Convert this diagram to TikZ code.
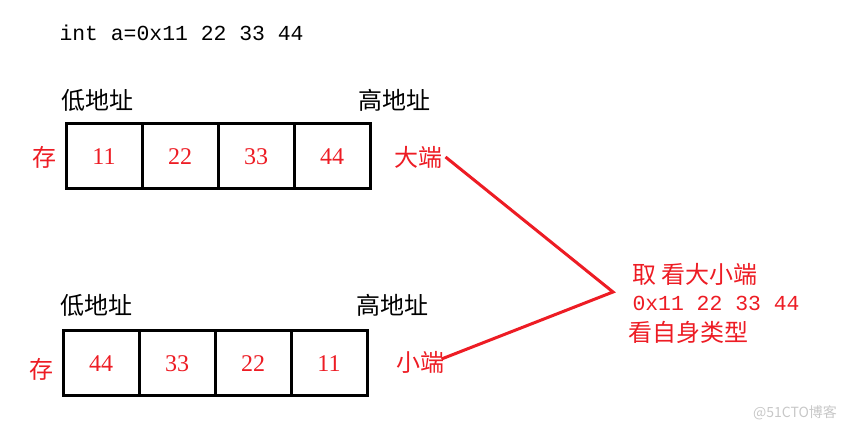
\documentclass[tikz,border=0pt]{standalone}
\usepackage{fontspec}
\setmainfont{Liberation Mono}
\newfontfamily\cjk{Noto Sans CJK SC}
\newfontfamily\digits{Liberation Serif}
\usetikzlibrary{positioning}
\definecolor{endred}{RGB}{237,28,36}

\begin{document}
\begin{tikzpicture}
		[x=1pt, y=-1pt,
		cell/.style={rectangle, draw=black, line width=3pt, minimum width=76pt, minimum height=65pt, inner sep=0pt, outer sep=0pt, text=endred, font=\digits\fontsize{24}{24}\selectfont},
		addr/.style={font=\cjk\fontsize{24}{24}\selectfont},
		note/.style={text=endred, font=\cjk\fontsize{24}{24}\selectfont},
		code/.style={anchor=west, font=\fontsize{21.4}{21.4}\selectfont}]
		\useasboundingbox (0,0) rectangle (847,430);

		\node[code] (decl) at (56,33) {int a=0x11 22 33 44};

		% big endian
		\node[addr] (blow) at (97,100) {低地址};
		\node[addr] (bhigh) at (394,100) {高地址};
		\node[note] (bstore) at (44,157) {存};
		\node[cell] (b1) at (104,156.5) {11};
		\node[cell, right=0pt of b1] (b2) {22};
		\node[cell, right=0pt of b2] (b3) {33};
		\node[cell, right=0pt of b3] (b4) {44};
		\node[note] (bigend) at (418,157) {大端};

		% little endian
		\node[addr] (slow) at (96,305) {低地址};
		\node[addr] (shigh) at (392,305) {高地址};
		\node[note] (sstore) at (42,369) {存};
		\node[cell] (s1) at (101,363.5) {44};
		\node[cell, right=0pt of s1] (s2) {33};
		\node[cell, right=0pt of s2] (s3) {22};
		\node[cell, right=0pt of s3] (s4) {11};
		\node[note] (smallend) at (420,362) {小端};

		% reading
		\coordinate (tip) at (613,292);
		\node[note, anchor=west] (take) at (629,274) {取 看大小端};
		\node[code, text=endred] (value) at (629,303) {0x11 22 33 44};
		\node[note, anchor=west] (own) at (625,332) {看自身类型};

		\draw[endred, line width=3pt] (bigend.east) -- (tip) -- ([xshift=-6pt, yshift=3pt]smallend.east);

		\node[text=black!22, font=\cjk\fontsize{14}{14}\selectfont] (mark) at (795,413) {@51CTO博客};
	\end{tikzpicture}
\end{document}
